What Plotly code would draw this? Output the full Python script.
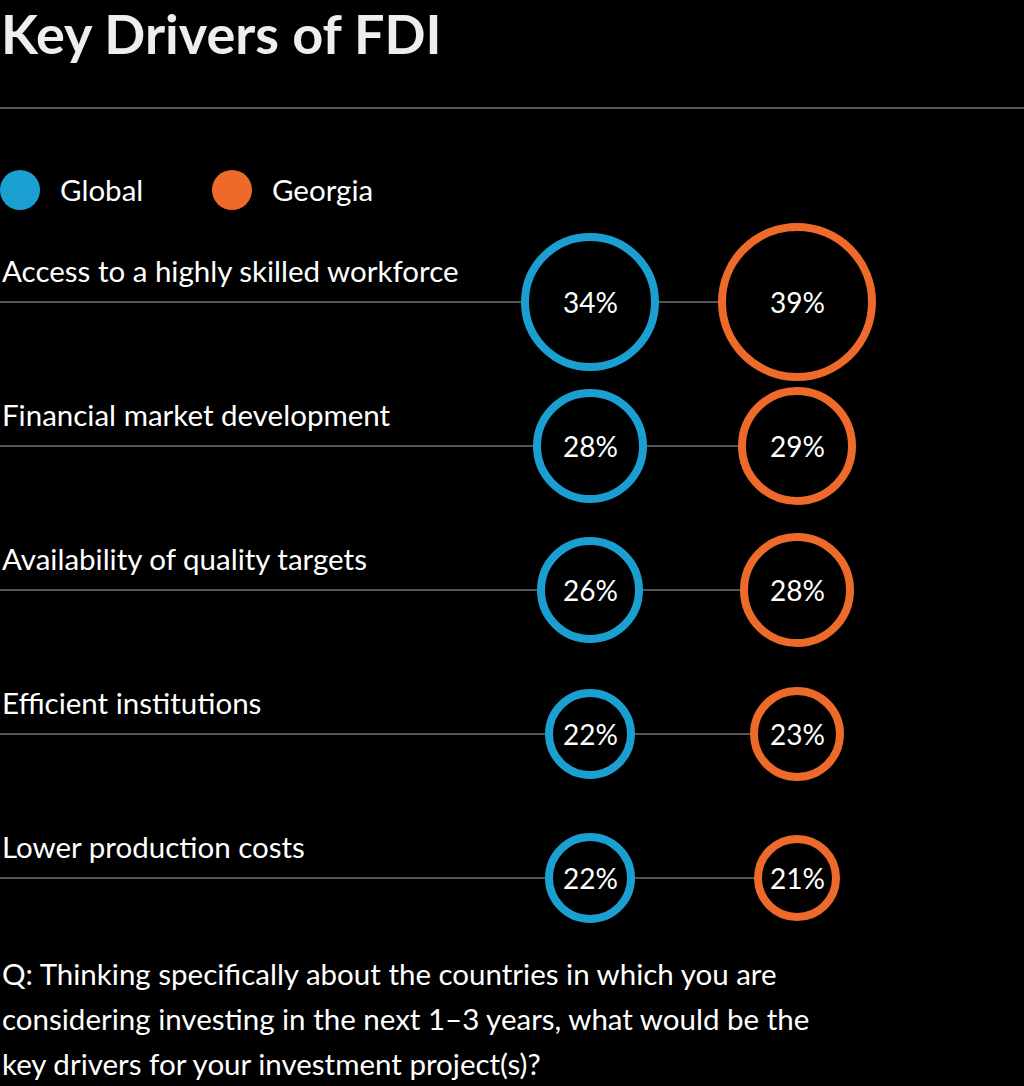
import plotly.graph_objects as go

categories = [
    "Access to a highly skilled workforce",
    "Financial market development",
    "Availability of quality targets",
    "Efficient institutions",
    "Lower production costs",
]
series_names = ["Global", "Georgia"]
global_vals = [34, 28, 26, 22, 22]
georgia_vals = [39, 29, 28, 23, 21]
title_text = "Key Drivers of FDI"
footnote_lines = [
    "Q: Thinking specifically about the countries in which you are",
    "considering investing in the next 1\u20133 years, what would be the",
    "key drivers for your investment project(s)?",
]

W, H = 1024, 1086
FONT = "Lato"
BLUE = "#1b9fd1"
ORANGE = "#ee6a2b"
GRID = "#555555"
LW = 8

# axis geometry: column 0 at px 590, column 1 at px 797; row i at px 302 + 144 i
px_per_x = 207.0
x0 = -590 / px_per_x
x1 = x0 + W / px_per_x
px_per_row = 144.0
y_top = -302 / px_per_row
y_bot = (H - 302) / px_per_row

rows = list(range(len(categories)))

fig = go.Figure()
shapes = []
annotations = []

def ring_sizes(vals):
    return [4 * v + 2 - LW for v in vals]

for col, (name, vals, color) in enumerate(
        [(series_names[0], global_vals, BLUE), (series_names[1], georgia_vals, ORANGE)]):
    fig.add_trace(go.Scatter(
        x=[col] * len(vals), y=rows, mode="markers",
        marker=dict(size=ring_sizes(vals), color="#000000", opacity=1,
                    line=dict(color=color, width=LW)),
        name=name, showlegend=False, hoverinfo="skip", cliponaxis=False,
    ))
    for i, v in zip(rows, vals):
        annotations.append(dict(text=f"{v}%", xref="x", yref="y", x=col, y=i,
                                yshift=0, xanchor="center", yanchor="middle",
                                showarrow=False,
                                font=dict(family=FONT, size=28, color="#ffffff")))

for i, cat in enumerate(categories):
    shapes.append(dict(type="line", xref="x", yref="y", x0=x0, x1=1, y0=i, y1=i,
                       line=dict(color=GRID, width=2), layer="below"))
    annotations.append(dict(text=cat, xref="paper", yref="y", x=0, y=i, yshift=32,
                            xanchor="left", yanchor="middle", showarrow=False,
                            font=dict(family=FONT, size=29.5, color="#ffffff")))

# top rule
shapes.append(dict(type="line", xref="paper", yref="paper", x0=0, x1=1,
                   y0=1 - 108 / H, y1=1 - 108 / H, line=dict(color=GRID, width=2)))

# legend
legend_items = [(series_names[0], BLUE, 20), (series_names[1], ORANGE, 232)]
for name, color, cx in legend_items:
    shapes.append(dict(type="circle", xref="paper", yref="paper",
                       xsizemode="pixel", ysizemode="pixel",
                       xanchor=cx / W, yanchor=1 - 190 / H,
                       x0=-20, x1=20, y0=-20, y1=20,
                       fillcolor=color, line=dict(width=0)))
    annotations.append(dict(text=name, xref="paper", yref="paper",
                            x=(cx + 38) / W, y=1 - 189 / H, xanchor="left",
                            yanchor="middle", showarrow=False,
                            font=dict(family=FONT, size=29.5, color="#ffffff")))

annotations.append(dict(text=f"<b>{title_text}</b>", xref="paper", yref="paper",
                        x=0, y=1, xanchor="left", yanchor="top", borderpad=0,
                        showarrow=False,
                        font=dict(family=FONT, size=54, color="#eeeeee")))
for k, line in enumerate(footnote_lines):
    annotations.append(dict(text=line, xref="paper", yref="paper",
                            x=0, y=1 - (973 + 45 * k) / H, xanchor="left",
                            yanchor="middle", align="left", showarrow=False,
                            font=dict(family=FONT, size=29.5, color="#ffffff")))

fig.update_layout(
    width=W, height=H, margin=dict(l=0, r=0, t=0, b=0),
    paper_bgcolor="#000000", plot_bgcolor="#000000",
    xaxis=dict(range=[x0, x1], visible=False, fixedrange=True),
    yaxis=dict(range=[y_bot, y_top], visible=False, fixedrange=True),
    shapes=shapes, annotations=annotations,
)

fig.write_html(
    "out.html",
    config={"displayModeBar": False},
    post_script="document.body.style.margin='0';document.body.style.overflow='hidden';document.body.style.background='#000';",
)
